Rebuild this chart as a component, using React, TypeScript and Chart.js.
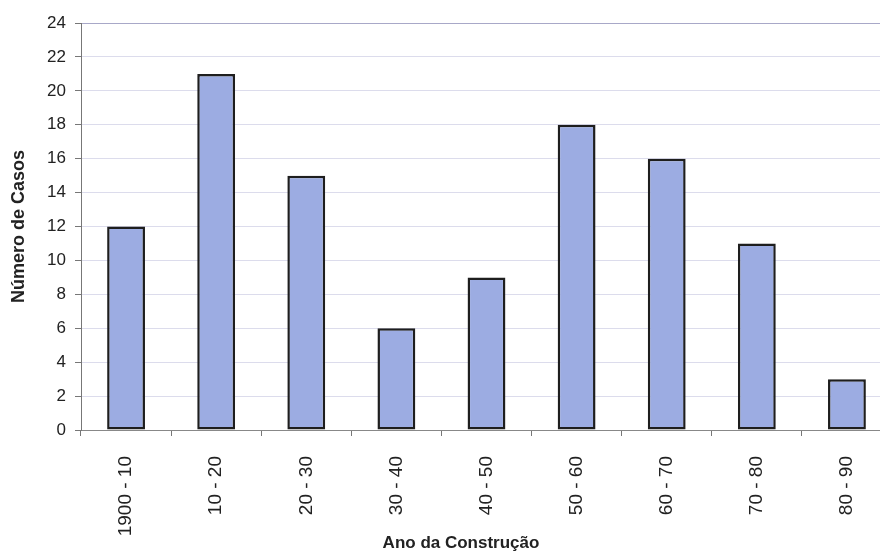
import React, { useEffect, useRef } from "react";
import { Chart, registerables } from "chart.js";

Chart.register(...registerables);

const categories = ["1900 - 10", "10 - 20", "20 - 30", "30 - 40", "40 - 50", "50 - 60", "60 - 70", "70 - 80", "80 - 90"];
const casos = [12, 21, 15, 6, 9, 18, 16, 11, 3];
const yMin = 0;
const yMax = 24;
const yStep = 2;
const xTitle = "Ano da Construção";
const yTitle = "Número de Casos";

const FONT = "Liberation Sans, Arial, sans-serif";

const xTitlePlugin = {
  id: "xTitleCustom",
  afterDraw(chart: any) {
    const ctx = chart.ctx;
    ctx.save();
    ctx.font = `bold 17px ${FONT}`;
    ctx.fillStyle = "#222";
    ctx.textAlign = "center";
    ctx.textBaseline = "middle";
    ctx.fillText(xTitle, 461, 543);
    ctx.restore();
  },
};

export default function App() {
  const ref = useRef<HTMLCanvasElement | null>(null);
  useEffect(() => {
    if (!ref.current) return;
    const chart = new Chart(ref.current, {
      type: "bar",
      data: {
        labels: categories,
        datasets: [
          {
            data: casos,
            backgroundColor: "#9cace2",
            borderColor: "#1e1e1e",
            borderWidth: 2.5,
            borderSkipped: false,
            barPercentage: 0.42,
            categoryPercentage: 1,
          },
        ],
      },
      plugins: [xTitlePlugin],
      options: {
        animation: false,
        responsive: false,
        maintainAspectRatio: false,
        layout: { padding: { top: 23, right: 8, left: 0, bottom: 0 } },
        plugins: { legend: { display: false }, tooltip: { enabled: false } },
        scales: {
          x: {
            grid: { drawOnChartArea: false, drawTicks: true, tickLength: 6, offset: true, color: "#777" },
            border: { color: "#888", width: 1 },
            ticks: {
              minRotation: 90,
              maxRotation: 90,
              padding: 20,
              color: "#222",
              font: { family: FONT, size: 19 },
            },
            afterFit: (s: any) => {
              s.height = 125;
            },
          },
          y: {
            min: yMin,
            max: yMax,
            ticks: {
              stepSize: yStep,
              padding: 9,
              color: "#222",
              font: { family: FONT, size: 17 },
            },
            grid: {
              color: (ctx: any) => (ctx.tick && ctx.tick.value === yMax ? "#a8a8c8" : "#dcdcec"),
              tickColor: "#777",
              tickLength: 6,
              drawTicks: true,
            },
            border: { color: "#777", width: 1 },
            title: {
              display: true,
              text: yTitle,
              color: "#222",
              font: { family: FONT, size: 18, weight: "bold" },
              padding: { top: 8, bottom: 0 },
            },
            afterFit: (s: any) => {
              s.width = 81;
            },
          },
        },
      },
    });
    return () => chart.destroy();
  }, []);
  return (
    <div style={{ position: "absolute", left: 0, top: 0, width: 900, height: 555, overflow: "hidden" }}>
      <canvas ref={ref} width={900} height={555} style={{ width: 900, height: 555, display: "block" }} />
    </div>
  );
}
